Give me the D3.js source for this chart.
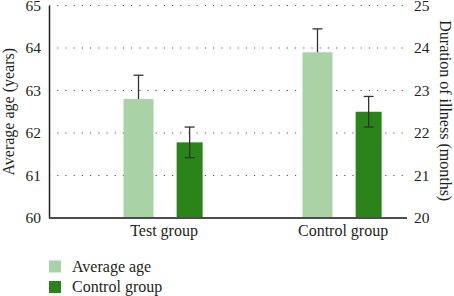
<!DOCTYPE html>
<html>
<head>
<meta charset="utf-8">
<script src="https://cdn.jsdelivr.net/npm/d3@7"></script>
<style>
  body { margin: 0; background: #fff; }
  svg text { font-family: "Liberation Serif", "Times New Roman", serif !important; }
</style>
</head>
<body>
<div id="chart"></div>
<script>
  // data
  var categories = ["Test group", "Control group"];
  var series = ["Average age", "Control group"];
  var ageValues = [62.8, 63.9];          // left axis (years)
  var ageErrors = [0.56, 0.55];
  var durationValues = [21.78, 22.5];    // right axis (months)
  var durationErrors = [0.36, 0.36];
  var leftTicks = [60, 61, 62, 63, 64, 65];
  var rightTicks = [20, 21, 22, 23, 24, 25];

  const WIDTH = 454;
  const HEIGHT = 296;
  const FONT = '"Liberation Serif", "Times New Roman", serif';
  const TEXT_COLOR = '#231f20';
  const COLOR_LIGHT = '#a9d3a6';
  const COLOR_DARK = '#2a841a';
  const margin = { top: 5.5, right: 47, bottom: 78, left: 49 };

  var plotW = WIDTH - margin.left - margin.right;
  var plotH = HEIGHT - margin.top - margin.bottom;

  var svg = d3.select("#chart").append("svg")
    .attr("width", WIDTH)
    .attr("height", HEIGHT)
    .attr("font-family", FONT)
    .attr("font-size", 16);

  var g = svg.append("g")
    .attr("transform", "translate(" + margin.left + "," + margin.top + ")");

  var x0 = d3.scaleBand().domain(categories).range([0, plotW]).padding(0);
  var x1 = d3.scalePoint().domain(series).range([0, x0.bandwidth()])
    .padding(1.25).align(0.7);

  var yLeft = d3.scaleLinear().domain([60, 65]).range([plotH, 0]);
  var yRight = d3.scaleLinear().domain([20, 25]).range([plotH, 0]);

  // dotted grid
  g.append("g")
    .selectAll("line")
    .data(leftTicks.slice(1))
    .enter().append("line")
    .attr("x1", 0)
    .attr("x2", plotW)
    .attr("y1", function (d) { return yLeft(d); })
    .attr("y2", function (d) { return yLeft(d); })
    .attr("stroke", "#555")
    .attr("stroke-width", 1.2)
    .attr("stroke-dasharray", "1.2,7");

  // left axis
  var leftAxis = g.append("g")
    .call(d3.axisLeft(yLeft).tickValues(leftTicks).tickFormat(d3.format("d"))
      .tickSize(0).tickPadding(8));
  leftAxis.attr("font-family", FONT).attr("font-size", 15.5);
  leftAxis.select(".domain").attr("stroke", TEXT_COLOR).attr("stroke-width", 1.5);
  leftAxis.selectAll("text").attr("fill", TEXT_COLOR);

  // right axis
  var rightAxis = g.append("g")
    .attr("transform", "translate(" + plotW + ",0)")
    .call(d3.axisRight(yRight).tickValues(rightTicks).tickFormat(d3.format("d"))
      .tickSize(0).tickPadding(7));
  rightAxis.attr("font-family", FONT).attr("font-size", 15.5);
  rightAxis.select(".domain").remove();
  rightAxis.selectAll("text").attr("fill", TEXT_COLOR);

  var barW = { "Average age": 30, "Control group": 26 };
  var CAP = 10;

  var light = categories.map(function (c, i) {
    return { cat: c, v: ageValues[i], e: ageErrors[i] };
  });
  var dark = categories.map(function (c, i) {
    return { cat: c, v: durationValues[i], e: durationErrors[i] };
  });

  function cx(cat, s) { return x0(cat) + x1(s); }

  // light bars (left axis)
  g.selectAll(".bar-light")
    .data(light)
    .enter().append("rect")
    .attr("class", "bar-light")
    .attr("x", function (d) { return cx(d.cat, series[0]) - barW[series[0]] / 2; })
    .attr("width", barW[series[0]])
    .attr("y", function (d) { return yLeft(d.v); })
    .attr("height", function (d) { return plotH - yLeft(d.v); })
    .style("fill", COLOR_LIGHT);

  // dark bars (right axis)
  g.selectAll(".bar-dark")
    .data(dark)
    .enter().append("rect")
    .attr("class", "bar-dark")
    .attr("x", function (d) { return cx(d.cat, series[1]) - barW[series[1]] / 2; })
    .attr("width", barW[series[1]])
    .attr("y", function (d) { return yRight(d.v); })
    .attr("height", function (d) { return plotH - yRight(d.v); })
    .style("fill", COLOR_DARK);

  // error bars
  var errG = g.append("g").attr("stroke", "#333").attr("stroke-width", 1.3);
  light.forEach(function (d) {
    var x = cx(d.cat, series[0]);
    errG.append("line").attr("x1", x).attr("x2", x)
      .attr("y1", yLeft(d.v)).attr("y2", yLeft(d.v + d.e));
    errG.append("line").attr("x1", x - CAP / 2).attr("x2", x + CAP / 2)
      .attr("y1", yLeft(d.v + d.e)).attr("y2", yLeft(d.v + d.e));
  });
  dark.forEach(function (d) {
    var x = cx(d.cat, series[1]);
    errG.append("line").attr("x1", x).attr("x2", x)
      .attr("y1", yRight(d.v - d.e)).attr("y2", yRight(d.v + d.e));
    [d.v - d.e, d.v + d.e].forEach(function (v) {
      errG.append("line").attr("x1", x - CAP / 2).attr("x2", x + CAP / 2)
        .attr("y1", yRight(v)).attr("y2", yRight(v));
    });
  });

  // bottom axis line
  g.append("line")
    .attr("x1", 0).attr("x2", plotW)
    .attr("y1", plotH).attr("y2", plotH)
    .attr("stroke", "#4d4d4d")
    .attr("stroke-width", 2);

  // category labels, centred under each pair of bars
  g.selectAll(".cat-label")
    .data(categories)
    .enter().append("text")
    .attr("class", "cat-label")
    .attr("x", function (c) { return (cx(c, series[0]) + cx(c, series[1])) / 2; })
    .attr("y", plotH + 18)
    .attr("text-anchor", "middle")
    .attr("fill", TEXT_COLOR)
    .text(function (c) { return c; });

  // axis titles
  svg.append("text")
    .attr("transform", "translate(14," + (margin.top + plotH / 2) + ") rotate(-90)")
    .attr("text-anchor", "middle")
    .attr("fill", TEXT_COLOR)
    .text("Average age (years)");

  svg.append("text")
    .attr("transform", "translate(440," + (margin.top + plotH / 2 - 1) + ") rotate(90)")
    .attr("text-anchor", "middle")
    .attr("fill", TEXT_COLOR)
    .text("Duration of illness (months)");

  // legend
  var legend = svg.append("g")
    .attr("transform", "translate(" + margin.left + ",260.5)");
  var legendItems = legend.selectAll("g")
    .data(series)
    .enter().append("g")
    .attr("transform", function (d, i) { return "translate(0," + (i * 20.5) + ")"; });
  legendItems.append("rect")
    .attr("width", 12)
    .attr("height", 12)
    .style("fill", function (d, i) { return i === 0 ? COLOR_LIGHT : COLOR_DARK; });
  legendItems.append("text")
    .attr("x", 23)
    .attr("y", 11)
    .attr("fill", TEXT_COLOR)
    .text(function (d) { return d; });
</script>
</body>
</html>
